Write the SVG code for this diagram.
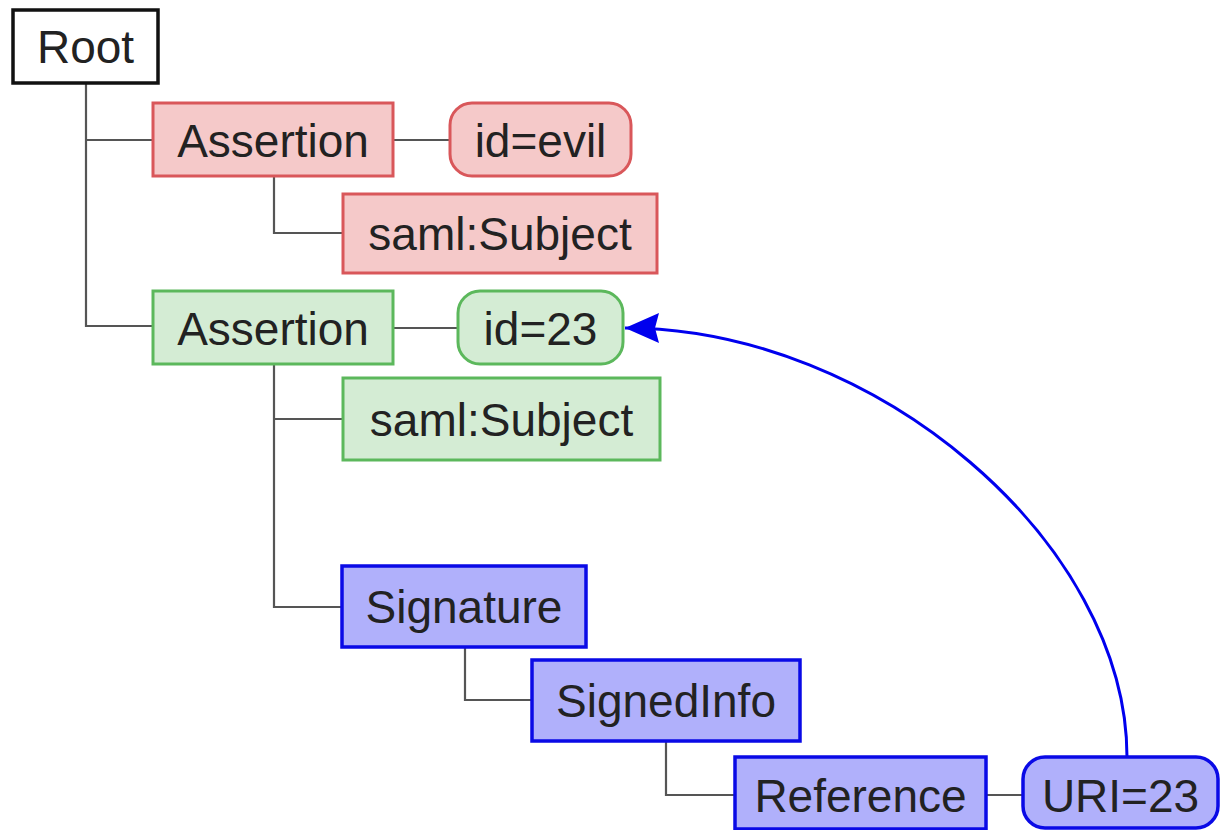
<svg xmlns="http://www.w3.org/2000/svg" width="1220" height="830" viewBox="0 0 1220 830">
<style>
text{font-family:"Liberation Sans",Arial,sans-serif;font-size:46px;fill:#222;text-anchor:middle}
.red{fill:#f5c9c9;stroke:#d9575a;stroke-width:3}
.green{fill:#d4ecd4;stroke:#5cb85c;stroke-width:3}
.blue{fill:#b0b0fb;stroke:#0a0ae6;stroke-width:3.5}
.root{fill:#fff;stroke:#111;stroke-width:3.5}
.tree{fill:none;stroke:#555;stroke-width:2.2}
</style>
<defs>
<marker id="ah" viewBox="0 0 34 30" refX="34" refY="15" markerWidth="34" markerHeight="30" markerUnits="userSpaceOnUse" orient="auto">
<path d="M0,0 L34,15 L0,30 L4,15 Z" fill="#0000ee"/>
</marker>
</defs>
<rect width="1220" height="830" fill="#fff"/>
<g id="connectors">
<path class="tree" d="M86,83 V326 H153 M86,140 H153"/>
<path class="tree" d="M393,140 H450"/>
<path class="tree" d="M274,176 V233 H343"/>
<path class="tree" d="M393,328 H458"/>
<path class="tree" d="M274,364 V607 H342 M274,419 H343"/>
<path class="tree" d="M465,647 V700 H532"/>
<path class="tree" d="M666,741 V795 H735"/>
<path class="tree" d="M986,795 H1023"/>
<path d="M1127,757 C1127,543 876,328 625,328" fill="none" stroke="#0000ee" stroke-width="3" marker-end="url(#ah)"/>
</g>
<g id="root"><rect class="root" x="13" y="10" width="145" height="73"/><text x="85.5" y="63">Root</text></g>
<g id="assertion-evil"><rect class="red" x="153" y="103" width="240" height="73"/><text x="273" y="157">Assertion</text></g>
<g id="id-evil"><rect class="red" x="450" y="103" width="181" height="73" rx="22"/><text x="540.5" y="157">id=evil</text></g>
<g id="subject-evil"><rect class="red" x="343" y="194" width="314" height="79"/><text x="500" y="250">saml:Subject</text></g>
<g id="assertion-23"><rect class="green" x="153" y="291" width="240" height="73"/><text x="273" y="345">Assertion</text></g>
<g id="id-23"><rect class="green" x="458" y="291" width="165" height="73" rx="22"/><text x="540.5" y="345">id=23</text></g>
<g id="subject-23"><rect class="green" x="343" y="378" width="317" height="82"/><text x="501.5" y="436">saml:Subject</text></g>
<g id="signature"><rect class="blue" x="342" y="566" width="244" height="81"/><text x="464" y="623">Signature</text></g>
<g id="signedinfo"><rect class="blue" x="532" y="660" width="268" height="81"/><text x="666" y="717">SignedInfo</text></g>
<g id="reference"><rect class="blue" x="735" y="757" width="251" height="72"/><text x="860.5" y="812">Reference</text></g>
<g id="uri-23"><rect class="blue" x="1023" y="757" width="195" height="71" rx="22"/><text x="1120.5" y="812">URI=23</text></g>
</svg>
